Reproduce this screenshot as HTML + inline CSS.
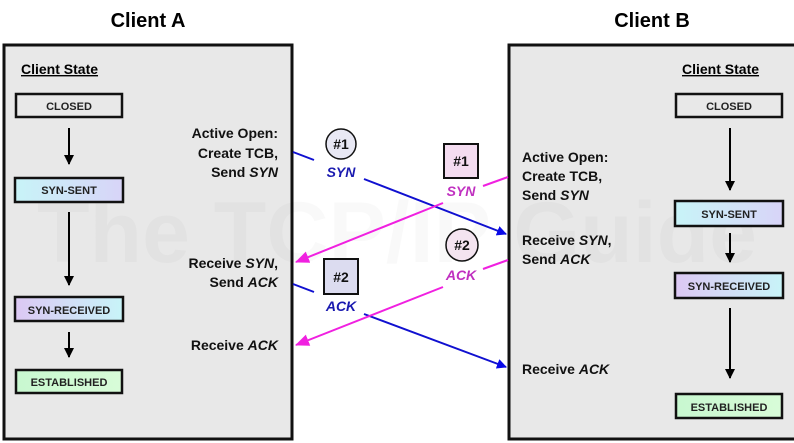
<!DOCTYPE html>
<html><head><style>body{margin:0;background:#fff}svg{display:block}</style></head><body>
<svg width="794" height="443" xmlns="http://www.w3.org/2000/svg" font-family="Liberation Sans, Arial, sans-serif">
<defs>
<linearGradient id="gs" x1="0" x2="1"><stop offset="0" stop-color="#c8f4f8"/><stop offset="1" stop-color="#d8d4f8"/></linearGradient>
<linearGradient id="gr" x1="0" x2="1"><stop offset="0" stop-color="#dcc8f4"/><stop offset="1" stop-color="#c8f4f8"/></linearGradient>
<linearGradient id="ge" x1="0" x2="1"><stop offset="0" stop-color="#c8f8d0"/><stop offset="1" stop-color="#d8fcd8"/></linearGradient>
<marker id="ab" markerWidth="10" markerHeight="10" refX="9" refY="5" orient="auto" markerUnits="userSpaceOnUse"><path d="M0,0 L10,5 L0,10 z" fill="#0a0ae8"/></marker>
<marker id="am" markerWidth="14" markerHeight="12" refX="13" refY="6" orient="auto" markerUnits="userSpaceOnUse"><path d="M0,0 L14,6 L0,12 z" fill="#f020e0"/></marker>
<marker id="ak" markerWidth="10" markerHeight="10" refX="9" refY="5" orient="auto" markerUnits="userSpaceOnUse"><path d="M0,0 L10,5 L0,10 z" fill="#000"/></marker>
</defs>
<rect x="4" y="45" width="288" height="394" fill="#e8e8e8" stroke="#111" stroke-width="3"/>
<rect x="509" y="45" width="290" height="394" fill="#e8e8e8" stroke="#111" stroke-width="3"/>
<text x="397" y="262" font-size="86" font-weight="bold" fill="#000" fill-opacity="0.025" text-anchor="middle">The TCP/IP Guide</text>
<g font-weight="bold" font-size="20" text-anchor="middle"><text x="148" y="27">Client A</text><text x="652" y="27">Client B</text></g>
<g font-weight="bold" font-size="14" text-decoration="underline"><text x="21" y="74">Client State</text><text x="682" y="74">Client State</text></g>
<g stroke="#111" stroke-width="2.5" font-size="11" font-weight="bold">
<rect x="16" y="94" width="106" height="23" fill="#e8e8e8"/>
<rect x="15" y="178" width="108" height="24" fill="url(#gs)"/>
<rect x="15" y="297" width="108" height="24" fill="url(#gr)"/>
<rect x="16" y="370" width="106" height="23" fill="url(#ge)"/>
<rect x="676" y="94" width="106" height="23" fill="#e8e8e8"/>
<rect x="675" y="201" width="108" height="25" fill="url(#gs)"/>
<rect x="675" y="273" width="108" height="25" fill="url(#gr)"/>
<rect x="676" y="394" width="106" height="24" fill="url(#ge)"/>
</g>
<g font-size="11" font-weight="bold" text-anchor="middle" fill="#222">
<text x="69" y="110">CLOSED</text><text x="69" y="194">SYN-SENT</text><text x="69" y="314">SYN-RECEIVED</text><text x="69" y="386">ESTABLISHED</text>
<text x="729" y="110">CLOSED</text><text x="729" y="218">SYN-SENT</text><text x="729" y="290">SYN-RECEIVED</text><text x="729" y="411">ESTABLISHED</text>
</g>
<g stroke="#000" stroke-width="2" marker-end="url(#ak)">
<line x1="69" y1="128" x2="69" y2="164"/><line x1="69" y1="212" x2="69" y2="285"/><line x1="69" y1="332" x2="69" y2="357"/>
<line x1="730" y1="128" x2="730" y2="190"/><line x1="730" y1="233" x2="730" y2="262"/><line x1="730" y1="308" x2="730" y2="378"/>
</g>
<g font-size="14" font-weight="bold" fill="#111" text-anchor="end">
<text x="278" y="138">Active Open:</text><text x="278" y="158">Create TCB,</text><text x="278" y="177">Send <tspan font-style="italic">SYN</tspan></text>
<text x="278" y="268">Receive <tspan font-style="italic">SYN</tspan>,</text><text x="278" y="287">Send <tspan font-style="italic">ACK</tspan></text>
<text x="278" y="350">Receive <tspan font-style="italic">ACK</tspan></text>
</g>
<g font-size="14" font-weight="bold" fill="#111">
<text x="522" y="162">Active Open:</text><text x="522" y="181">Create TCB,</text><text x="522" y="200">Send <tspan font-style="italic">SYN</tspan></text>
<text x="522" y="245">Receive <tspan font-style="italic">SYN</tspan>,</text><text x="522" y="264">Send <tspan font-style="italic">ACK</tspan></text>
<text x="522" y="374">Receive <tspan font-style="italic">ACK</tspan></text>
</g>
<g stroke-width="2" fill="none">
<path d="M293,152 L314,160 M364,179 L506,234" stroke="#1010d0" marker-end="url(#ab)"/>
<path d="M293,284 L314,292 M364,314 L506,367" stroke="#1010d0" marker-end="url(#ab)"/>
<path d="M508,177 L483,186 M443,203 L296,262" stroke="#f020e0" marker-end="url(#am)"/>
<path d="M508,260 L483,269 M443,287 L296,345" stroke="#f020e0" marker-end="url(#am)"/>
</g>
<circle cx="341" cy="144" r="15" fill="#e8e8f4" stroke="#111" stroke-width="1.5"/>
<rect x="324" y="259" width="34" height="35" fill="#dcdcf0" stroke="#111" stroke-width="2"/>
<rect x="444" y="144" width="34" height="34" fill="#f4dcf0" stroke="#111" stroke-width="2"/>
<circle cx="462" cy="245" r="16" fill="#f4e4f0" stroke="#111" stroke-width="1.5"/>
<g font-size="14" font-weight="bold" text-anchor="middle" fill="#111">
<text x="341" y="149">#1</text><text x="341" y="282">#2</text><text x="461" y="166">#1</text><text x="462" y="250">#2</text>
</g>
<g font-size="14" font-weight="bold" font-style="italic" text-anchor="middle">
<text x="341" y="177" fill="#1a1ab0">SYN</text><text x="341" y="311" fill="#1a1ab0">ACK</text>
<text x="461" y="196" fill="#c030c0">SYN</text><text x="461" y="280" fill="#c030c0">ACK</text>
</g>
</svg>
</body></html>
